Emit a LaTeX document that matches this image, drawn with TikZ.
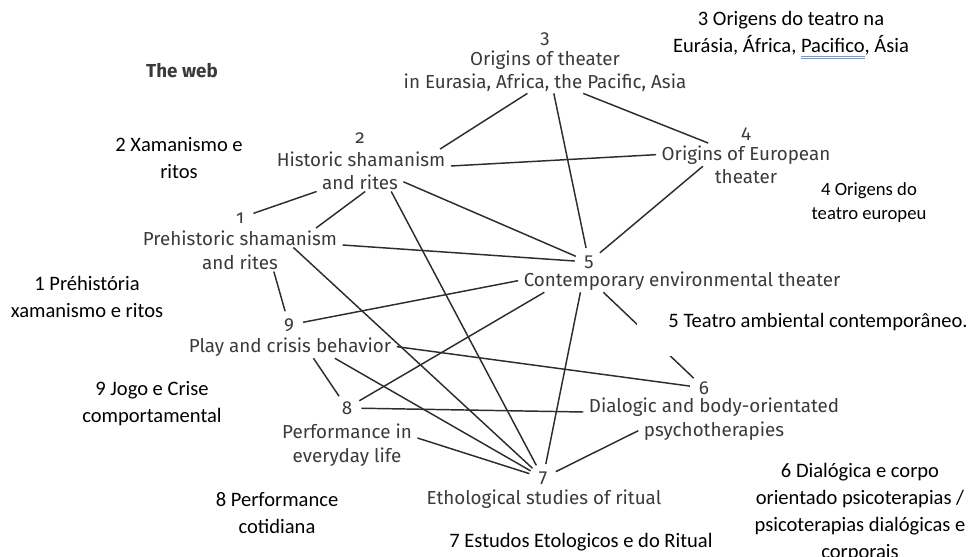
\documentclass[tikz,border=0pt]{standalone}
\usepackage{fontspec}
\setmainfont{Carlito}
\newfontfamily\bookfont[Numbers=OldStyle]{Fira Sans}
\usetikzlibrary{calc}
\definecolor{inkgray}{RGB}{58,58,58}
\definecolor{linkgray}{RGB}{45,45,45}
\definecolor{spellblue}{RGB}{110,150,230}
\newcommand\spellmark[1]{%
  \setbox0\hbox{#1}%
  \rlap{\color{spellblue}\rule[-3.2pt]{\wd0}{0.6pt}}%
  \rlap{\color{spellblue}\rule[-4.7pt]{\wd0}{0.6pt}}%
  \box0}

\begin{document}
\begin{tikzpicture}[x=0.75pt,y=-0.75pt,
  book/.style={font=\bookfont\fontsize{14.1}{16}\selectfont, text=inkgray,
    inner xsep=4pt, inner ysep=1.5pt, anchor=base},
  num/.style={font=\bookfont\fontsize{14.1}{16}\selectfont, text=inkgray,
    circle, minimum size=21pt, inner sep=0pt},
  note/.style={font=\fontsize{15.4}{20.25}\selectfont, align=center, inner sep=0pt},
  link/.style={draw=linkgray, line width=1.1pt}]
  \useasboundingbox (0,0) rectangle (972,557);
  \clip (0,0) rectangle (972,557);

  \node[book, font=\bookfont\bfseries\fontsize{14.1}{16}\selectfont] (web) at (182,77) {The web};

  \node[num] (k3) at (545,39) {3};
  \node[book] (t3) at (545,65) {Origins of theater};
  \node[book] (t3b) at (545,88) {in Eurasia, Africa, the Pacific, Asia};
  \node[num] (k2) at (360,138) {2};
  \node[book] (t2) at (361,166) {Historic shamanism};
  \node[book] (t2b) at (360,189) {and rites};
  \node[num] (k1) at (240,218) {1};
  \node[book] (t1) at (240,245) {Prehistoric shamanism};
  \node[book] (t1b) at (240,269) {and rites};
  \node[num] (k4) at (746,134) {4};
  \node[book] (t4) at (746,160) {Origins of European};
  \node[book] (t4b) at (746,183) {theater};
  \node[num] (k5) at (589,262) {5};
  \node[book] (t5) at (682,286) {Contemporary environmental theater};
  \node[num] (k6) at (704,388) {6};
  \node[book] (t6) at (714,412) {Dialogic and body-orientated};
  \node[book] (t6b) at (714,436) {psychotherapies};
  \node[num] (k7) at (543,478) {7};
  \node[book] (t7) at (544,504) {Ethological studies of ritual};
  \node[num] (k8) at (347,408) {8};
  \node[book] (t8) at (347,438) {Performance in};
  \node[book] (t8b) at (347,462) {everyday life};
  \node[num] (k9) at (289,325) {9};
  \node[book] (t9) at (290,352) {Play and crisis behavior};

  \draw[link] ($(t3b.south west)!.44!(t3b.south east)$) -- ($(t2.north west)!.94!(t2.north east)$);
  \draw[link] ($(t3b.south west)!.53!(t3b.south east)$) -- (k5);
  \draw[link] ($(t3b.south west)!.63!(t3b.south east)$) -- ($(t4.north west)!.29!(t4.north east)$);
  \draw[link] (t2.base east) -- (t4.west);
  \draw[link] (t2b.east) -- (k5);
  \draw[link] ($(t2b.south west)!.56!(t2b.south east)$) -- ($(t1.north west)!.87!(t1.north east)$);
  \draw[link] (t2b.south west) -- (k1);
  \draw[link] ($(t2b.south west)!.86!(t2b.south east)$) -- (k7);
  \draw[link] (t1.base east) -- (k5);
  \draw[link] ($(t1.south west)!.76!(t1.south east)$) -- (k7);
  \draw[link] ($(t1b.south west)!.89!(t1b.south east)$) -- (k9);
  \draw[link] ($(t4.south west)!.26!(t4.south east)$) -- (k5);
  \draw[link] (t5.west) -- (k9);
  \draw[link] ($(t5.south west)!.08!(t5.south east)$) -- (k8);
  \draw[link] ($(t5.south west)!.19!(t5.south east)$) -- (k7);
  \draw[link] ($(t5.south west)!.26!(t5.south east)$) -- (k6);
  \draw[link] (t9.east) -- (k6);
  \draw[link] ($(t9.south west)!.71!(t9.south east)$) -- (k7);
  \draw[link] ($(t9.south west)!.61!(t9.south east)$) -- (k8);
  \draw[link] (k8) -- (t6.base west);
  \draw[link] (t8.base east) -- (k7);
  \draw[link] (t6b.west) -- (k7);

  \node[note] (p3) at (791,35.5) {3 Origens do teatro na\\Eurásia, África, \spellmark{Pacifico}, Ásia};
  \node[note, font=\fontsize{14}{18}\selectfont] (p4) at (869,202.7) {4 Origens do\\teatro europeu};
  \node[note] (p2) at (179,158.5) {2 Xamanismo e\\ritos};
  \node[note] (p1) at (87,296.5) {1 Préhistória\\xamanismo e ritos};
  \node[note] (p9) at (152,403.5) {9 Jogo e Crise\\comportamental};
  \node[note] (p8) at (277,513.5) {8 Performance\\cotidiana};
  \node[note] (p7) at (581,542.5) {7 Estudos Etologicos e do Ritual};
  \node[note, fill=white, minimum width=271.5pt, minimum height=50pt] (p5) at (818,322.5) {5 Teatro ambiental contemporâneo.};
  \node[note] (p6) at (860,513) {6 Dialógica e corpo\\orientado psicoterapias /\\psicoterapias dialógicas e\\corporais};
\end{tikzpicture}
\end{document}
